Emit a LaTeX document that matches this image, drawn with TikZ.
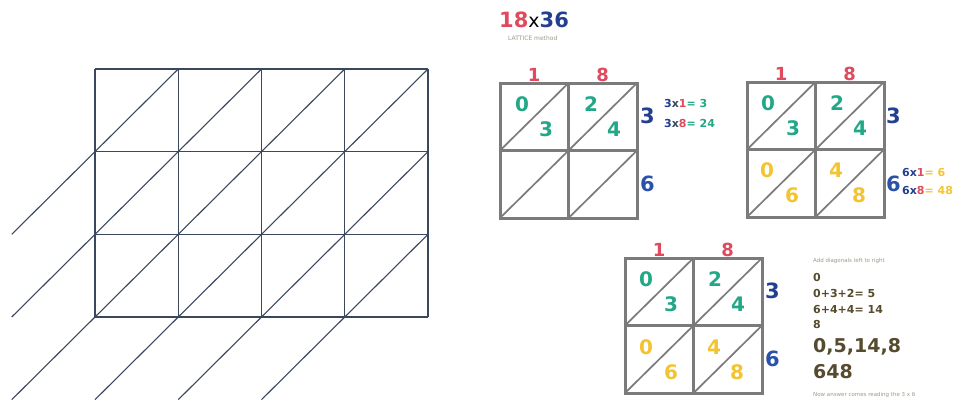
\documentclass[tikz,border=0pt]{standalone}
\usepackage{fontspec}
\setmainfont{DejaVu Sans}
\definecolor{gridc}{HTML}{3A475C}
\definecolor{lred}{HTML}{E04A5F}
\definecolor{lblue}{HTML}{22408F}
\definecolor{lblue2}{HTML}{2A52A8}
\definecolor{lteal}{HTML}{23A887}
\definecolor{lyel}{HTML}{F3C431}
\definecolor{lgray}{HTML}{7B7B7B}
\definecolor{ltext}{HTML}{564B2E}
\definecolor{lfaint}{HTML}{A09A88}
\newcommand\latticebox[2]{%
  \begin{scope}[shift={(#1,#2)}]
    \draw[ldiag] (0,67.5) -- (68.5,0);
    \draw[ldiag] (68.5,67.5) -- (137,0);
    \draw[ldiag] (0,135) -- (68.5,67.5);
    \draw[ldiag] (68.5,135) -- (137,67.5);
    \draw[lborder] (68.5,0) -- (68.5,135);
    \draw[lborder] (0,67.5) -- (137,67.5);
    \draw[lborder] (0,0) rectangle (137,135);
  \end{scope}}
\begin{document}
\begin{tikzpicture}[x=1pt,y=-1pt,
  gridline/.style={draw=gridc,line width=1.1pt},
  lborder/.style={draw=lgray,line width=3pt,line join=miter},
  ldiag/.style={draw=lgray,line width=1.7pt},
  cdig/.style={font=\bfseries\fontsize{20}{20}\selectfont,inner sep=0pt},
  toplab/.style={font=\bfseries\fontsize{18}{18}\selectfont,text=lred,inner sep=0pt,anchor=south},
  sidelab/.style={font=\bfseries\fontsize{21}{21}\selectfont,inner sep=0pt,anchor=west},
  eqn/.style={font=\bfseries\fontsize{11}{11}\selectfont,inner sep=0pt,anchor=west},
  steptext/.style={font=\bfseries\fontsize{11}{11}\selectfont,text=ltext,inner sep=0pt,anchor=west},
  bigtext/.style={font=\bfseries\fontsize{19}{19}\selectfont,text=ltext,inner sep=0pt,anchor=west},
  tinytext/.style={font=\fontsize{5.5}{5.5}\selectfont,text=lfaint,inner sep=0pt,anchor=west}]
\useasboundingbox (0,0) rectangle (953,400);
\fill[white] (0,0) rectangle (953,400);
% left lattice grid
\begin{scope}[shift={(95,317)},x=83.25pt,y=82.67pt]
  \foreach \i in {0,...,4} \draw[gridline] (\i,0) -- (\i,3);
  \foreach \j in {0,...,3} \draw[gridline] (0,\j) -- (4,\j);
  \draw[gridline] (-1,1) -- (1,3);
  \draw[gridline] (-1,0) -- (2,3);
  \draw[gridline] (-1,-1) -- (3,3);
  \draw[gridline] (0,-1) -- (4,3);
  \draw[gridline] (1,-1) -- (4,2);
  \draw[gridline] (2,-1) -- (4,1);
\end{scope}
% title
\node[anchor=west,inner sep=0pt,font=\bfseries\fontsize{21}{21}\selectfont] (title) at (499,20)
  {\textcolor{lred}{18}{\mdseries\fontsize{19}{19}\selectfont x}\textcolor{lblue}{36}};
\node[tinytext,font=\fontsize{6}{6}\selectfont] (sub) at (508,38) {LATTICE method};
% lattice 1
\latticebox{500}{83}
\node[toplab] (a1) at (534.25,82) {1};
\node[toplab] (a8) at (602.75,82) {8};
\node[sidelab,text=lblue] (a3) at (640,116) {3};
\node[sidelab,text=lblue2] (a6) at (640,184) {6};
\node[cdig,text=lteal] (a00) at (522,104) {0};
\node[cdig,text=lteal] (a03) at (546,129) {3};
\node[cdig,text=lteal] (a02) at (591,104) {2};
\node[cdig,text=lteal] (a04) at (614,129) {4};
\node[eqn] (e1) at (664,103) {\textcolor{lblue}{3}\textcolor{gridc}{x}\textcolor{lred}{1}\textcolor{lteal}{= 3}};
\node[eqn] (e2) at (664,123) {\textcolor{lblue}{3}\textcolor{gridc}{x}\textcolor{lred}{8}\textcolor{lteal}{= 24}};
% lattice 2
\latticebox{747}{82}
\node[toplab] (b1) at (781.25,81) {1};
\node[toplab] (b8) at (849.75,81) {8};
\node[sidelab,text=lblue] (b3) at (886,116) {3};
\node[sidelab,text=lblue2] (b6) at (886,184) {6};
\node[cdig,text=lteal] (b00) at (768,103) {0};
\node[cdig,text=lteal] (b03) at (793,128) {3};
\node[cdig,text=lteal] (b02) at (837,103) {2};
\node[cdig,text=lteal] (b04) at (860,128) {4};
\node[cdig,text=lyel] (b10) at (767,170) {0};
\node[cdig,text=lyel] (b16) at (792,195) {6};
\node[cdig,text=lyel] (b14) at (836,170) {4};
\node[cdig,text=lyel] (b18) at (859,195) {8};
\node[eqn] (f1) at (902,172) {\textcolor{lblue}{6}\textcolor{lblue}{x}\textcolor{lred}{1}\textcolor{lyel}{= 6}};
\node[eqn] (f2) at (902,190) {\textcolor{lblue}{6}\textcolor{lblue}{x}\textcolor{lred}{8}\textcolor{lyel}{ = 48}};
% lattice 3
\latticebox{625}{258}
\node[toplab] (c1) at (659.25,257) {1};
\node[toplab] (c8) at (727.75,257) {8};
\node[sidelab,text=lblue] (c3) at (765,291) {3};
\node[sidelab,text=lblue2] (c6) at (765,359) {6};
\node[cdig,text=lteal] (c00) at (646,279) {0};
\node[cdig,text=lteal] (c03) at (671,304) {3};
\node[cdig,text=lteal] (c02) at (715,279) {2};
\node[cdig,text=lteal] (c04) at (738,304) {4};
\node[cdig,text=lyel] (c10) at (646,347) {0};
\node[cdig,text=lyel] (c16) at (671,372) {6};
\node[cdig,text=lyel] (c14) at (714,347) {4};
\node[cdig,text=lyel] (c18) at (737,372) {8};
% explanation column
\node[tinytext] (g0) at (813,261) {Add diagonals left to right};
\node[steptext] (g1) at (813,277) {0};
\node[steptext] (g2) at (813,293) {0+3+2= 5};
\node[steptext] (g3) at (813,309) {6+4+4= 14};
\node[steptext] (g4) at (813,324) {8};
\node[bigtext] (g5) at (813,347) {0,5,14,8};
\node[bigtext] (g6) at (813,372) {648};
\node[tinytext] (g7) at (813,395) {Now answer comes reading the 3 x 6};
\end{tikzpicture}
\end{document}
